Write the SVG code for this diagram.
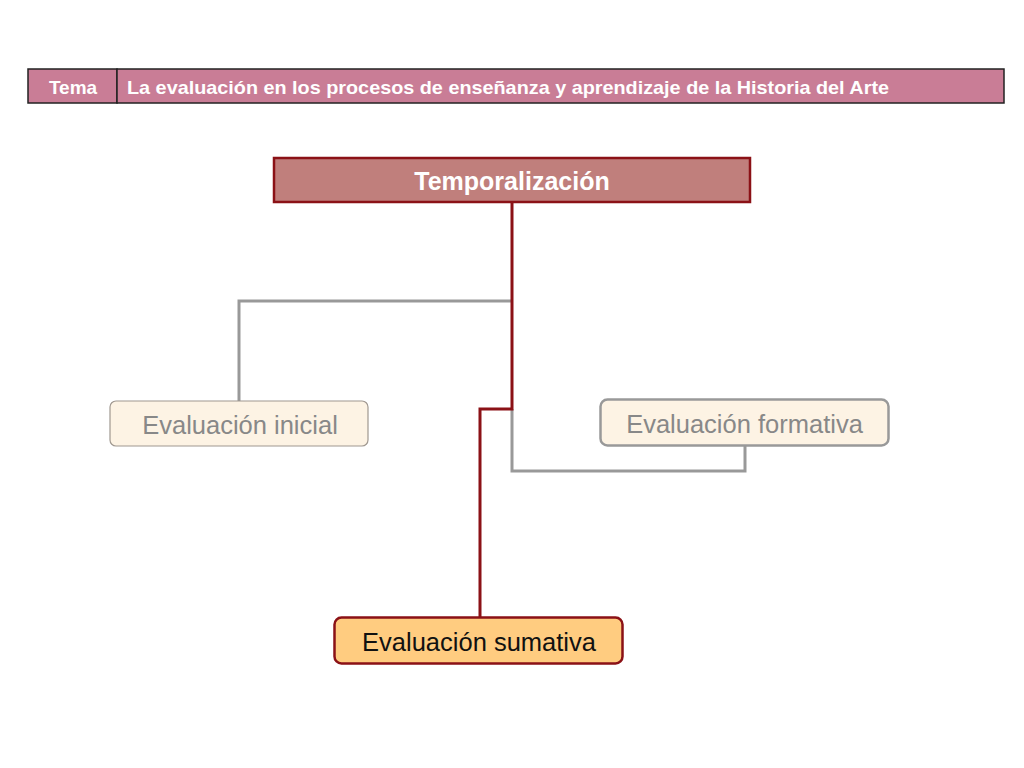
<svg xmlns="http://www.w3.org/2000/svg" width="1024" height="768" viewBox="0 0 1024 768">
<style>
text{font-family:"Liberation Sans",Arial,sans-serif;text-anchor:middle;dominant-baseline:central}
.hdr{fill:#c97d96;stroke:#222;stroke-width:1.5}
.hdrt{fill:#fff;font-weight:bold;font-size:19px}
.gray{fill:none;stroke:#999;stroke-width:3}
.red{fill:none;stroke:#8b1116;stroke-width:3}
.child{fill:#fdf3e4}
.ct{fill:#888;font-size:25.5px}
</style>
<rect width="1024" height="768" fill="#fff"/>
<g id="header">
<rect class="hdr" x="28" y="69" width="89" height="34"/>
<rect class="hdr" x="117" y="69" width="887" height="34"/>
<text class="hdrt" x="73" y="87">Tema</text>
<text class="hdrt" x="127" y="87" style="text-anchor:start" textLength="762" lengthAdjust="spacingAndGlyphs">La evaluación en los procesos de enseñanza y aprendizaje de la Historia del Arte</text>
</g>
<g id="connectors">
<polyline class="gray" points="512,301 239,301 239,401"/>
<polyline class="gray" points="512,409 512,471 745,471 745,446"/>
<polyline class="red" points="512,202 512,409 480,409 480,617"/>
</g>
<g id="temporalizacion">
<rect x="274" y="158" width="476" height="44" fill="#c07f7c" stroke="#8b1116" stroke-width="2.5"/>
<text x="512" y="181" fill="#fff" font-weight="bold" font-size="25">Temporalización</text>
</g>
<g id="inicial">
<rect class="child" x="110" y="401" width="258" height="45" rx="6" stroke="#a09890" stroke-width="1.2"/>
<text class="ct" x="240" y="425">Evaluación inicial</text>
</g>
<g id="formativa">
<rect class="child" x="600.5" y="399.5" width="288" height="46" rx="7" stroke="#999" stroke-width="2.5"/>
<text class="ct" x="744.5" y="423.5">Evaluación formativa</text>
</g>
<g id="sumativa">
<rect x="334.5" y="617.5" width="288" height="46" rx="7" fill="#ffcc80" stroke="#8b1116" stroke-width="2.5"/>
<text x="479" y="641.5" fill="#111" font-size="25.5">Evaluación sumativa</text>
</g>
</svg>
